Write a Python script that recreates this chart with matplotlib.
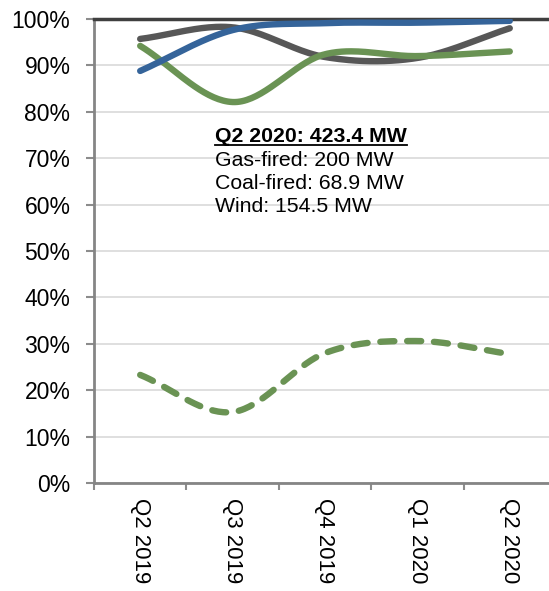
import numpy as np
import matplotlib
matplotlib.use("Agg")
import matplotlib.pyplot as plt
from matplotlib.lines import Line2D

plt.rcParams['font.family'] = ['Liberation Sans', 'DejaVu Sans']

quarters = ["Q2 2019", "Q3 2019", "Q4 2019", "Q1 2020", "Q2 2020"]
gas = [95.7, 98.2, 91.8, 91.6, 98.0]
blue_series = [88.8, 97.6, 99.1, 99.2, 99.6]
green_solid = [94.2, 82.1, 92.4, 92.0, 93.0]
green_dashed = [23.3, 15.3, 28.0, 30.6, 27.8]

note_title = "Q2 2020: 423.4 MW"
note_lines = ["Gas-fired: 200 MW", "Coal-fired: 68.9 MW", "Wind: 154.5 MW"]


def smooth(y, n=40):
    # Catmull-Rom style curve through the points, like Excel's smoothed lines
    y = np.asarray(y, float)
    x = np.arange(len(y), dtype=float)
    pts = np.column_stack([x, y])
    ext = np.vstack([2 * pts[0] - pts[1], pts, 2 * pts[-1] - pts[-2]])
    out = []
    for i in range(1, len(ext) - 2):
        p0, p1, p2, p3 = ext[i - 1], ext[i], ext[i + 1], ext[i + 2]
        c1 = p1 + (p2 - p0) / 6
        c2 = p2 - (p3 - p1) / 6
        t = np.linspace(0, 1, n)[:, None]
        seg = ((1 - t) ** 3) * p1 + 3 * ((1 - t) ** 2) * t * c1 + 3 * (1 - t) * t ** 2 * c2 + t ** 3 * p2
        out.append(seg if i == 1 else seg[1:])
    s = np.vstack(out)
    return s[:, 0], s[:, 1]


fig = plt.figure(figsize=(5.49, 5.91), dpi=100)
ax = fig.add_axes([0.1712, 0.1827, 0.8415, 0.7852])

kw = dict(lw=4.6, solid_capstyle="round", zorder=3)
for vals, col in [(gas, "#575757"), (green_solid, "#6a9354"), (blue_series, "#35649a")]:
    xs, ys = smooth(vals)
    ax.plot(xs, ys, color=col, **kw)
xs, ys = smooth(green_dashed)
ax.plot(xs, ys, color="#6a9354", lw=4.6, ls=(0, (2.2, 2.0)), dash_capstyle="round", zorder=3)

ax.set_xlim(-0.5, 4.5)
ax.set_ylim(0, 100)
ax.set_yticks(np.arange(0, 101, 10))
ax.set_yticklabels([f"{v}%" for v in range(0, 101, 10)], fontsize=16.5)
ax.grid(axis="y", color="#d9d9d9", lw=1.2)
ax.set_axisbelow(True)

ax.set_xticks(range(len(quarters)))
ax.set_xticklabels(quarters, rotation=-90, fontsize=16, va="top", ha="center")
ax.set_xticks(np.arange(-0.5, 5, 1), minor=True)
ax.tick_params(axis="x", which="major", length=0, pad=11)
ax.tick_params(axis="x", which="minor", length=5, width=1.5, color="#8c8c8c", direction="out")
ax.tick_params(axis="y", length=6, width=1.5, color="#8c8c8c", direction="out", pad=11)

for side in ["left", "bottom"]:
    ax.spines[side].set_color("#858585")
    ax.spines[side].set_linewidth(2)
ax.spines["top"].set_color("#3f3f3f")
ax.spines["top"].set_linewidth(2.5)
ax.spines["right"].set_visible(False)

# capacity note with an underlined bold heading
tx = 0.81
t = ax.text(tx, 73.5, note_title, fontsize=15.3, fontweight="bold", va="baseline", zorder=4)
for i, line in enumerate(note_lines):
    ax.text(tx, 68.3 - i * 5.0, line, fontsize=15.3, va="baseline", zorder=4)

fig.canvas.draw()
bb = t.get_window_extent()
inv = fig.transFigure.inverted()
(x0, y0), (x1, _) = inv.transform([(bb.x0, bb.y0 + 1), (bb.x1, bb.y0)])
fig.add_artist(Line2D([x0, x1], [y0, y0], color="black", lw=1.3))

fig.savefig("out.png", dpi=100)
